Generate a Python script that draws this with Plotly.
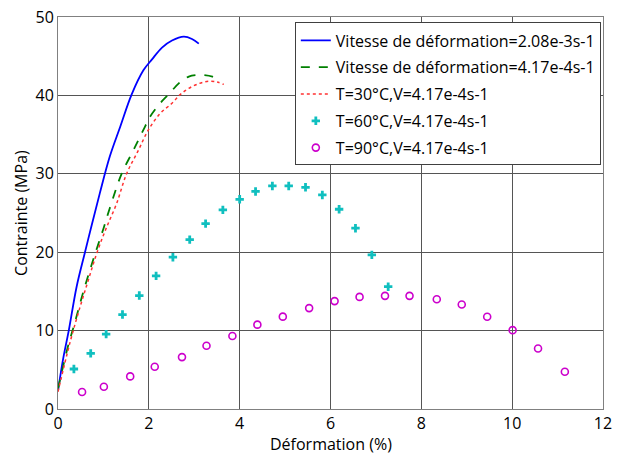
import plotly.graph_objects as go

# Vitesse 2.08e-3 s-1 (blue solid)
blue_x = [0.0, 0.11, 0.24, 0.41, 0.59, 0.74, 0.92, 1.14, 1.37, 1.62, 1.88, 2.07, 2.29, 2.51, 2.77, 2.95, 3.10]
blue_y = [2.3, 6.3, 10.1, 15.6, 19.9, 23.4, 27.5, 32.2, 36.0, 40.1, 43.2, 44.6, 46.1, 47.0, 47.5, 47.2, 46.6]

# Vitesse 4.17e-4 s-1 (green dashed)
green_x = [0.0, 0.22, 0.37, 0.55, 0.74, 0.88, 1.00, 1.14, 1.40, 1.66, 1.88, 2.03, 2.25, 2.43, 2.69, 2.88, 3.05, 3.21, 3.40, 3.54]
green_y = [2.6, 8.0, 11.0, 14.8, 18.4, 20.9, 23.0, 25.6, 30.0, 33.0, 35.6, 37.3, 39.0, 40.1, 41.7, 42.4, 42.6, 42.6, 42.4, 42.0]

# T=30°C (red dotted)
red_x = [0.0, 0.26, 0.48, 0.66, 0.85, 1.05, 1.29, 1.51, 1.77, 1.99, 2.25, 2.51, 2.69, 2.88, 3.10, 3.32, 3.50, 3.65]
red_y = [2.2, 8.4, 12.9, 16.3, 19.8, 22.9, 26.2, 30.0, 33.0, 35.6, 37.7, 39.0, 40.1, 40.9, 41.5, 41.8, 41.7, 41.4]

# T=60°C (cyan markers)
cyan_x = [0.35, 0.72, 1.06, 1.42, 1.79, 2.16, 2.53, 2.90, 3.25, 3.63, 4.00, 4.35, 4.72, 5.08, 5.45, 5.82, 6.19, 6.55, 6.91, 7.27]
cyan_y = [5.1, 7.1, 9.55, 12.05, 14.47, 16.98, 19.36, 21.6, 23.65, 25.4, 26.75, 27.75, 28.45, 28.45, 28.28, 27.3, 25.48, 23.06, 19.66, 15.6]

# T=90°C (magenta circles)
mag_x = [0.53, 1.01, 1.59, 2.13, 2.73, 3.27, 3.84, 4.39, 4.95, 5.53, 6.09, 6.64, 7.20, 7.74, 8.34, 8.89, 9.45, 10.01, 10.57, 11.16]
mag_y = [2.16, 2.84, 4.16, 5.39, 6.62, 8.07, 9.32, 10.76, 11.78, 12.87, 13.76, 14.3, 14.43, 14.43, 14.0, 13.33, 11.76, 10.06, 7.72, 4.75]

names = [
    "Vitesse de déformation=2.08e-3s-1",
    "Vitesse de déformation=4.17e-4s-1",
    "T=30°C,V=4.17e-4s-1",
    "T=60°C,V=4.17e-4s-1",
    "T=90°C,V=4.17e-4s-1",
]

x_ticks = [0, 2, 4, 6, 8, 10, 12]
y_ticks = [0, 10, 20, 30, 40, 50]

FONT = "Open Sans, Noto Sans, sans-serif"

fig = go.Figure()
fig.add_trace(go.Scatter(x=blue_x, y=blue_y, mode="lines", name=names[0], legendgroup="a",
                         line=dict(color="#0000FF", width=1.8, shape="spline")))
fig.add_trace(go.Scatter(x=green_x, y=green_y, mode="lines", name=names[1], legendgroup="b",
                         line=dict(color="#008000", width=1.8, dash="dash", shape="spline")))
fig.add_trace(go.Scatter(x=red_x, y=red_y, mode="lines", name=names[2], legendgroup="c",
                         line=dict(color="#FF3030", width=1.5, dash="dot", shape="spline")))
fig.add_trace(go.Scatter(x=cyan_x, y=cyan_y, mode="markers", name=names[3], legendgroup="d",
                         marker=dict(symbol="cross", size=7, color="#10BFBF", line=dict(width=0))))
fig.add_trace(go.Scatter(x=mag_x, y=mag_y, mode="markers", name=names[4], legendgroup="e",
                         marker=dict(symbol="circle-open", size=7, color="#CC00CC", line=dict(width=1.6, color="#CC00CC"))))

fig.update_layout(
    width=617, height=457,
    margin=dict(l=58, r=14, t=17, b=48),
    paper_bgcolor="white", plot_bgcolor="white",
    font=dict(family=FONT, size=16, color="#000000"),
    showlegend=True,
    legend=dict(x=0.996, y=0.986, xanchor="right", yanchor="top",
                bgcolor="white", bordercolor="#404040", borderwidth=1,
                font=dict(family=FONT, size=16), tracegroupgap=3,
                itemwidth=30),
    xaxis=dict(range=[0, 12], tickvals=x_ticks, ticktext=[str(v) for v in x_ticks],
               showgrid=True, gridcolor="#555555", gridwidth=1,
               showline=True, linecolor="#808080", linewidth=1, mirror=True,
               zeroline=False, ticks="", tickfont=dict(size=16), automargin=False),
    yaxis=dict(range=[0, 50], tickvals=y_ticks, ticktext=[str(v) for v in y_ticks],
               showgrid=True, gridcolor="#555555", gridwidth=1,
               showline=True, linecolor="#808080", linewidth=1, mirror=True,
               zeroline=False, ticks="", tickfont=dict(size=16), automargin=False),
    annotations=[
        dict(text="Déformation (%)", xref="paper", yref="paper", x=0.5, y=-0.057,
             xanchor="center", yanchor="top", showarrow=False, font=dict(size=16)),
        dict(text="Contrainte (MPa)", xref="paper", yref="paper", x=-0.068, y=0.5,
             xanchor="center", yanchor="middle", textangle=-90, showarrow=False, font=dict(size=16)),
    ],
)

fig.write_html("out.html", config={"displayModeBar": False})

with open("out.html", "r", encoding="utf-8") as f:
    html = f.read()
html = html.replace("<body>", '<body style="margin:0;padding:0;overflow:hidden">', 1)
with open("out.html", "w", encoding="utf-8") as f:
    f.write(html)
